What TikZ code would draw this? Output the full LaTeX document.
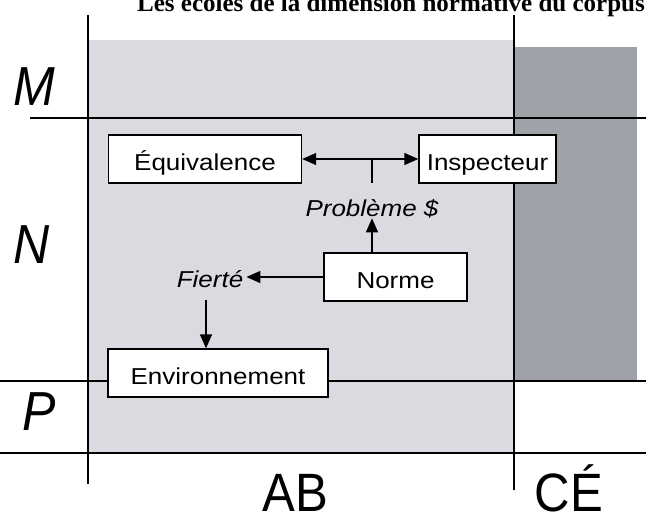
\documentclass[tikz,border=0pt]{standalone}
\usepackage{fontspec}
\setmainfont[FakeStretch=1.13]{Liberation Sans}
\newfontfamily\bigfont[FakeStretch=0.91]{Liberation Sans}
\newfontfamily\titlefont{Liberation Serif}
\usetikzlibrary{arrows.meta}
\definecolor{lightshade}{HTML}{D9DBE0}
\definecolor{darkshade}{HTML}{9FA2A9}
\tikzset{
  box/.style={draw=black, line width=1.4pt, fill=white, minimum height=48pt, inner sep=0pt, text height=22pt, text depth=0pt, font=\fontsize{23}{26}\selectfont},
  lbl/.style={inner sep=0pt, anchor=base, font=\fontsize{23}{25}\selectfont\itshape},
  grid/.style={line width=1.3pt},
  tip/.tip={Triangle[length=14pt,width=12pt]},
  arr/.style={line width=1.4pt, -tip},
  dblarr/.style={line width=1.4pt, tip-tip},
  rowlbl/.style={font=\bigfont\fontsize{55}{58}\selectfont\itshape, inner sep=0pt},
  collbl/.style={font=\bigfont\fontsize{54}{56}\selectfont, inner sep=0pt}
}
\begin{document}
\begin{tikzpicture}[x=1pt,y=-1pt]
\useasboundingbox (0,0) rectangle (646,512);
\begin{scope}
\clip (0,0) rectangle (646,512);
% title (cut off at the top)
\node[anchor=base east, inner sep=0pt, font=\titlefont\bfseries\fontsize{25}{28}\selectfont] (title) at (645,11) {Les écoles de la dimension normative du corpus};
% shading
\fill[lightshade] (88,40) rectangle (514,453);
\fill[darkshade] (514,47) rectangle (637,381);
% grid lines
\draw[grid] (88,15) -- (88,484);
\draw[grid] (514,15) -- (514,490);
\draw[grid] (30,118) -- (646,118);
\draw[grid] (0,381) -- (646,381);
\draw[grid] (0,453) -- (646,453);
% row and column labels
\node[rowlbl] (M) at (34,87) {M};
\node[rowlbl] (N) at (32,245) {N};
\node[rowlbl] (P) at (39,412) {P};
\node[collbl, anchor=base] (AB) at (295,511) {AB};
\node[collbl, anchor=base] (CE) at (569,511) {CÉ};
\end{scope}
% boxes
\node[box, minimum width=193pt] (equiv) at (205,159) {Équivalence};
\node[box, minimum width=137pt] (insp) at (487.5,159) {Inspecteur};
\node[box, minimum width=143pt] (norme) at (395.5,277) {Norme};
\node[box, minimum width=220pt] (env) at (218,373) {Environnement};
% labels
\node[lbl] (prob) at (372,216.5) {Problème \$};
\node[lbl] (fierte) at (210,287) {Fierté};
% connectors
\draw[dblarr] (equiv.east) -- (insp.west);
\coordinate (tick) at (372,159);
\draw[line width=1.4pt] (tick) -- ++(0,24);
\draw[arr] (norme.north -| prob.south) -- (prob.south);
\draw[arr] (norme.west) -- ([xshift=3pt]norme.west -| fierte.east);
\coordinate (fs) at (206,0);
\draw[arr] ([yshift=-13pt]fs |- fierte.south) -- (fs |- env.north);
\end{tikzpicture}
\end{document}
